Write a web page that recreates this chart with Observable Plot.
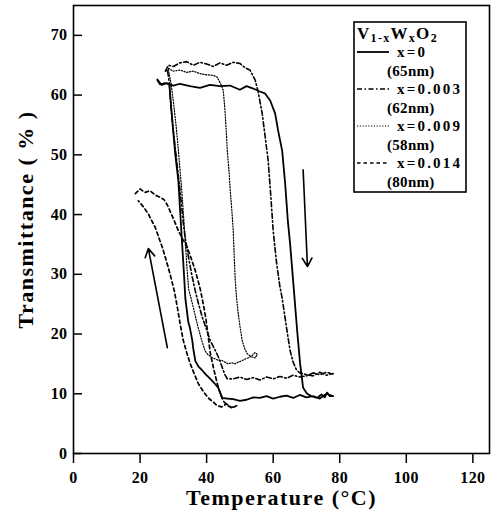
<!DOCTYPE html>
<html>
<head>
<meta charset="utf-8">
<script src="https://cdn.jsdelivr.net/npm/d3@7"></script>
<script src="https://cdn.jsdelivr.net/npm/@observablehq/plot@0.6"></script>
<style>
  html, body { margin: 0; padding: 0; background: #fff; }
  #chart { width: 496px; height: 513px; }
</style>
</head>
<body>
<div id="chart"></div>
<script>
// ---- tick labels ----
const xTicks = [0, 20, 40, 60, 80, 100, 120];
const yTicks = [0, 10, 20, 30, 40, 50, 60, 70];
const xTitle = "Temperature (°C)";
const yTitle = "Transmittance ( % )";

// ---- legend ----
const legendLabels = ["x=0", "x=0.003", "x=0.009", "x=0.014"];
const legendThick = ["(65nm)", "(62nm)", "(58nm)", "(80nm)"];

// ---- x = 0 (65 nm), solid ----
const x0HeatT = [25.2, 26.5, 28, 30, 32, 35, 38, 41, 44, 47, 50, 52, 54, 56, 57.5, 59.1, 60.6, 61.5, 62.7, 63.6, 64.4, 65.1, 66.0, 67.2, 68.1, 69.0, 70.2, 71.5, 73.2, 74.5, 75.5, 76.2, 77, 78];
const x0HeatTr = [62.6, 61.7, 62.0, 61.6, 61.9, 61.5, 61.2, 61.7, 61.5, 61.6, 60.9, 61.5, 61.1, 60.6, 60.3, 59.1, 56.9, 54.0, 50.7, 45.2, 39.0, 35.0, 28.9, 20.6, 15.0, 11.0, 10.0, 9.6, 9.3, 9.9, 9.4, 10.2, 9.6, 9.6];
const x0CoolT = [78, 76, 74, 72, 70, 68, 66, 64, 62, 60, 58, 56, 54, 52, 50, 48, 46.2, 44.7, 43.5, 42.3, 41.1, 39.8, 38.7, 37.5, 36.6, 36.0, 35.7, 35.0, 34.5, 33.6, 33.2, 32.4, 31.5, 30.6, 29.8, 29.2, 28.8, 27.5, 26.0, 25.2];
const x0CoolTr = [9.6, 10.0, 9.2, 9.6, 9.4, 9.8, 9.3, 9.7, 9.5, 9.2, 9.6, 9.3, 9.4, 9.0, 8.8, 9.1, 9.2, 9.3, 11.0, 11.8, 12.5, 13.2, 13.9, 14.6, 15.5, 17.5, 18.9, 21.0, 22.0, 26.0, 30.0, 37.3, 45.7, 50.0, 55.0, 59.0, 61.8, 62.0, 61.8, 62.5];

// ---- x = 0.003 (62 nm), dash-dot ----
const x3HeatT = [27.6, 28.5, 30, 32, 34, 36, 38, 40, 42, 44, 46, 48, 50, 51.5, 53, 54.6, 55.5, 56.7, 57.6, 58.5, 59.3, 60, 61, 62, 62.7, 63.5, 64.3, 65.1, 66, 67, 68, 70, 72, 74, 76, 78];
const x3HeatTr = [64.0, 65.0, 64.8, 65.4, 65.6, 65.0, 65.5, 65.2, 64.8, 65.4, 65.0, 65.5, 65.3, 64.6, 64.2, 62.5, 60.5, 56.9, 53.0, 49.0, 43.0, 37.3, 32.0, 28.0, 26.0, 23.0, 20.0, 17.2, 15.3, 14.0, 13.5, 13.2, 13.0, 13.6, 13.1, 13.4];
const x3CoolT = [78, 76, 74, 72, 70, 68, 66, 64, 62, 60, 58, 56, 54, 52, 50, 48, 46.2, 45.4, 44.7, 43.5, 42.3, 41.1, 39.9, 38.7, 37.6, 36.6, 35.7, 34.9, 34.2, 33.6, 33.0, 32.4, 31.6, 30.8, 30.0, 29.3, 28.8, 28.2, 27.6];
const x3CoolTr = [13.3, 13.6, 13.2, 13.5, 13.0, 12.8, 13.1, 12.6, 12.9, 12.5, 12.8, 12.3, 12.7, 12.4, 12.8, 12.5, 12.5, 13.3, 14.4, 16.2, 17.6, 18.9, 20.9, 22.8, 25.0, 27.2, 29.5, 31.8, 34.0, 36.0, 38.5, 42.0, 46.0, 50.0, 54.0, 58.0, 62.0, 64.3, 64.0];

// ---- x = 0.009 (58 nm), dotted ----
const x9HeatT = [28.5, 30, 32, 34, 36, 38, 40, 42, 43.2, 44.3, 45.0, 45.5, 45.9, 46.2, 46.7, 47.1, 47.6, 48.0, 48.3, 48.6, 49.0, 49.5, 50.1, 50.7, 51.4, 52.2, 53.4, 54.6, 55.2];
const x9HeatTr = [64.5, 64.0, 64.2, 63.8, 64.0, 63.6, 63.4, 63.3, 63.0, 61.8, 60.8, 57.5, 54.0, 50.7, 47.5, 44.0, 40.5, 37.3, 33.0, 29.0, 26.0, 23.4, 21.0, 18.9, 17.6, 16.7, 16.2, 16.0, 16.6];
const x9CoolT = [55.2, 54.5, 53.5, 52.5, 51.5, 50.5, 49.5, 48.5, 47.5, 46.5, 45.5, 44.5, 43.5, 42.3, 41.5, 40.5, 39.5, 38.5, 37.5, 36.6, 36.0, 35.3, 34.6, 34.1, 33.6, 33.1, 32.6, 32.0, 31.4, 30.8, 30.0, 29.3, 28.5];
const x9CoolTr = [16.6, 16.9, 16.3, 16.0, 15.8, 15.5, 15.3, 15.0, 15.2, 15.0, 15.3, 15.6, 15.6, 15.9, 16.1, 16.5, 17.2, 19.0, 21.0, 23.0, 24.5, 26.0, 27.5, 31.0, 35.5, 39.5, 43.5, 47.5, 51.5, 55.0, 59.0, 62.0, 64.3];

// ---- x = 0.014 (80 nm), dashed ----
const x14HeatT = [18.6, 20, 21.5, 23, 24.5, 26, 27.2, 28.2, 29.3, 30.4, 31.5, 32.8, 34.2, 35.4, 36.6, 37.4, 38.1, 39.0, 39.8, 40.5, 41.1, 42.2, 43.2, 44.1, 45.0, 46.3, 47.7, 49.0];
const x14HeatTr = [43.5, 44.3, 43.7, 44.0, 43.3, 42.9, 42.5, 41.6, 40.2, 38.8, 37.3, 35.9, 34.5, 32.6, 30.6, 29.0, 27.5, 25.0, 22.5, 19.5, 16.8, 14.0, 11.7, 10.0, 8.8, 8.0, 7.6, 8.0];
const x14CoolT = [49.0, 47.5, 46.0, 44.5, 43.2, 42.0, 40.5, 39.0, 37.5, 36.3, 35.1, 34.0, 33.0, 32.1, 31.2, 30.3, 29.4, 28.5, 27.6, 26.7, 25.6, 24.6, 23.5, 22.5, 21.0, 19.5];
const x14CoolTr = [8.0, 7.7, 8.3, 7.8, 8.0, 8.6, 9.3, 10.4, 11.7, 13.3, 15.0, 16.9, 18.9, 21.5, 24.5, 27.2, 29.2, 31.1, 32.8, 34.5, 36.2, 37.8, 39.0, 40.1, 41.3, 42.3];

// ---- direction arrows (heating: down, cooling: up) ----
const arrowT1 = [69.0, 28.2];
const arrowTr1 = [47.5, 17.7];
const arrowT2 = [70.3, 22.5];
const arrowTr2 = [31.3, 34.3];

// ---- build tables ----
function loop(hT, hR, cT, cR) {
  return hT.map((t, i) => ({T: t, R: hR[i]})).concat(cT.map((t, i) => ({T: t, R: cR[i]})));
}
const s0 = loop(x0HeatT, x0HeatTr, x0CoolT, x0CoolTr);
const s3 = loop(x3HeatT, x3HeatTr, x3CoolT, x3CoolTr);
const s9 = loop(x9HeatT, x9HeatTr, x9CoolT, x9CoolTr);
const s14 = loop(x14HeatT, x14HeatTr, x14CoolT, x14CoolTr);

const styles = [
  {strokeWidth: 1.8, strokeDasharray: null},
  {strokeWidth: 1.6, strokeDasharray: "5,2.5,1.5,2.5"},
  {strokeWidth: 1.2, strokeDasharray: "1.2,1.6"},
  {strokeWidth: 1.7, strokeDasharray: "3.5,3"}
];

const serif = "'Liberation Serif', 'Times New Roman', serif";

const plot = Plot.plot({
  width: 496,
  height: 513,
  marginLeft: 73,
  marginRight: 7,
  marginTop: 5,
  marginBottom: 60,
  x: {domain: [0, 125]},
  y: {domain: [0, 75]},
  style: {fontFamily: serif, fontSize: "16px", fontWeight: "bold", color: "black", background: "white"},
  marks: [
    Plot.frame({stroke: "black", strokeWidth: 1.6}),
    Plot.axisX({ticks: xTicks, tickSize: 10, tickPadding: 8, label: null, strokeWidth: 1.5}),
    Plot.axisY({ticks: yTicks, tickSize: -9, tickPadding: 15, label: null, strokeWidth: 1.5}),
    Plot.line(s0, {x: "T", y: "R", stroke: "black", ...styles[0]}),
    Plot.line(s3, {x: "T", y: "R", stroke: "black", ...styles[1]}),
    Plot.line(s9, {x: "T", y: "R", stroke: "black", ...styles[2]}),
    Plot.line(s14, {x: "T", y: "R", stroke: "black", ...styles[3]}),
    Plot.arrow([0, 1], {x1: i => arrowT1[i], y1: i => arrowTr1[i], x2: i => arrowT2[i], y2: i => arrowTr2[i], stroke: "black", strokeWidth: 1.6, headLength: 9}),
    Plot.text([xTitle], {frameAnchor: "bottom", dy: 44, text: d => d, fontSize: 22, fontWeight: "bold", fontFamily: serif, fill: "black", lineAnchor: "middle", textAnchor: "middle"}),
    Plot.text([yTitle], {frameAnchor: "left", dx: -48, dy: -10, rotate: -90, text: d => d, fontSize: 22, fontWeight: "bold", fontFamily: serif, fill: "black", lineAnchor: "middle", textAnchor: "middle"})
  ]
});

document.getElementById("chart").appendChild(plot);

// letter spacing to mimic the wide scanned type
d3.select(plot).selectAll("text").style("letter-spacing", "0.4px");
d3.select(plot).selectAll("[aria-label='text'] text").style("letter-spacing", "1.5px");

// ---- legend (inside plot frame, top right) ----
const svg = d3.select(plot);
const lg = svg.append("g").attr("font-family", serif).attr("font-weight", "bold")
  .attr("fill", "black").attr("text-anchor", "start");
lg.append("rect").attr("x", 354).attr("y", 22).attr("width", 112).attr("height", 170)
  .attr("fill", "white").attr("stroke", "black").attr("stroke-width", 1.6);
const title = lg.append("text").attr("x", 357).attr("y", 39).attr("font-size", 17)
  .attr("text-anchor", "start").style("letter-spacing", "1.3px");
title.append("tspan").text("V");
title.append("tspan").attr("font-size", 12).attr("dy", 3).text("1-x");
title.append("tspan").attr("dy", -3).text("W");
title.append("tspan").attr("font-size", 12).attr("dy", 3).text("x");
title.append("tspan").attr("dy", -3).text("O");
title.append("tspan").attr("font-size", 12).attr("dy", 3).text("2");
const rowY0 = 52, rowStep = 18.5;
legendLabels.forEach((lab, i) => {
  const y = rowY0 + i * 2 * rowStep;
  lg.append("line").attr("x1", 357).attr("x2", 389).attr("y1", y).attr("y2", y)
    .attr("stroke", "black").attr("stroke-width", styles[i].strokeWidth)
    .attr("stroke-dasharray", styles[i].strokeDasharray);
  lg.append("text").attr("x", 397).attr("y", y).attr("dy", "0.35em").attr("font-size", 15)
    .attr("text-anchor", "start").style("letter-spacing", "2.2px").text(lab);
  lg.append("text").attr("x", 387).attr("y", y + rowStep).attr("dy", "0.35em").attr("font-size", 15)
    .attr("text-anchor", "start").style("letter-spacing", "0.3px").text(legendThick[i]);
});
</script>
</body>
</html>
